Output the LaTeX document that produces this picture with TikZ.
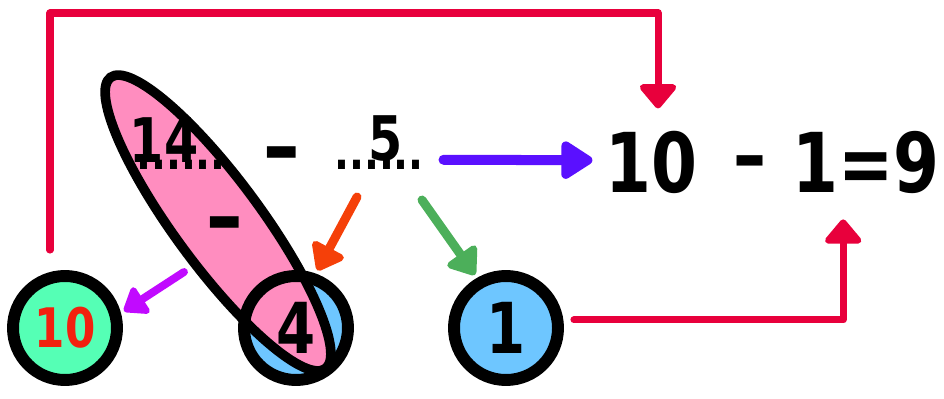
\documentclass[tikz,border=0pt]{standalone}
\usepackage{fontspec}
\newfontfamily\comic[FakeStretch=0.8]{DejaVu Sans Bold}
\usetikzlibrary{arrows.meta,positioning}
\definecolor{pinkfill}{HTML}{FF8DBF}
\definecolor{skyfill}{HTML}{6EC6FF}
\definecolor{mintfill}{HTML}{55FFB5}
\definecolor{tenred}{HTML}{F2200F}
\definecolor{linkred}{HTML}{E8003C}
\definecolor{arrowblue}{HTML}{5A10FF}
\definecolor{arroworange}{HTML}{F54009}
\definecolor{arrowgreen}{HTML}{4CAF5A}
\definecolor{arrowpurple}{HTML}{C10AFF}
\tikzset{
  ring/.style={circle, draw, line width=6.8pt, minimum size=2.08cm, inner sep=0pt, font=\comic\fontsize{40}{44}\selectfont},
  num/.style={inner sep=0pt, font=\comic\fontsize{35}{38}\selectfont},
  bignum/.style={inner sep=0pt, font=\comic\fontsize{47}{50}\selectfont},
  minusbar/.style={inner sep=0pt, font=\comic\fontsize{52}{56}\selectfont},
  dotline/.style={inner sep=0pt, font=\comic\fontsize{28}{32}\selectfont},
  hand/.style={line width=5.1pt, line cap=round, -{Triangle[length=16pt,width=23pt,round]}},
  linkline/.style={linkred, line width=4pt, line cap=round, line join=round, -{Triangle[length=15pt,width=24pt,round]}},
}

\begin{document}
\begin{tikzpicture}[x=0.02cm, y=-0.02cm]
    \useasboundingbox (0,0) rectangle (944,399);
    % the three counters
    \node[ring, fill=mintfill, text=tenred, font=\comic\fontsize{31}{34}\selectfont] (c10) at (65,328) {10};
    \fill[skyfill] (296,328) circle (52);
    \filldraw[pinkfill, draw=black, line width=5.5pt, rotate around={-53.6:(218,223)}] (218,223) ellipse [x radius=181, y radius=43];
    \node[ring] (c4) at (296,328) {4};
    \node[ring, fill=skyfill] (c1) at (506,328) {1};
    % the subtraction
    \node[num] (fourteen) at (164,140) {14};
    \node[dotline] (dots14) at (181,165) {......};
    \node[minusbar] (sub) at (282,162) {–};
    \node[num] (five) at (386,139) {5};
    \node[dotline] (dots5) at (379,165) {......};
    \node[minusbar] (inner) at (225,232) {–};
    % the result
    \node[bignum] (res10) at (651,162) {10};
    \node[bignum] (ressub) at (750,170) {–};
    \node[bignum] (res19) at (866,162) {1=9};
    % arrows
    \coordinate (purplestart) at (184,272);
    \coordinate (orangestart) at (357,197);
    \coordinate (greenstart) at (422,200);
    \draw[hand, arrowpurple, line width=4.5pt, -{Triangle[length=14pt,width=20pt,round]}, shorten >=2pt] (purplestart) -- (c10.15);
    \draw[hand, arroworange, shorten >=2pt] (orangestart) -- (c4.70);
    \draw[hand, arrowgreen, shorten >=2pt] (greenstart) -- (c1.120);
    \draw[hand, arrowblue, line width=5.7pt, -{Triangle[length=20pt,width=24pt,round]}, shorten <=11pt, shorten >=7pt] ([yshift=3pt]dots5.east) -- ([yshift=1pt]res10.west);
    \draw[linkline, shorten <=12.5pt, shorten >=12.5pt] (c10.105) -- (c10.105 |- 0,13) -| ([xshift=4pt]res10.north);
    \draw[linkline, shorten <=6pt, shorten >=14.7pt] (c1.8) -| ([xshift=-13pt]res19.south);
\end{tikzpicture}
\end{document}
